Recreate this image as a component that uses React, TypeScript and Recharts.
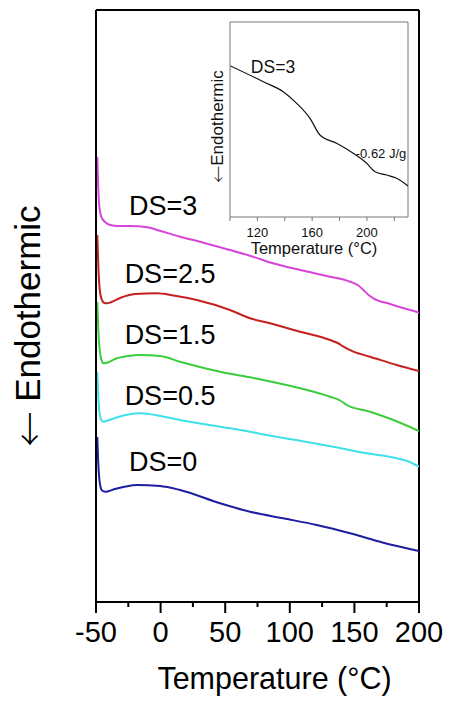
import React from 'react';
import { LineChart, Line, XAxis, YAxis, ReferenceLine, ReferenceDot, Label } from 'recharts';

const FONT = 'Arial, "Liberation Sans", Helvetica, sans-serif';
const ARROW_FONT = '"Noto Sans CJK SC", "DejaVu Sans", sans-serif';

// ---------- main chart data ----------
const MAIN_TICKS = [-50, -25, 0, 25, 50, 75, 100, 125, 150, 175, 200];
const MAIN_MAJOR = [-50, 0, 50, 100, 150, 200];

const ds3T = [-49.0, -48.3, -47.6, -46.5, -45.0, -43.0, -39.0, -33.0, -23.7, -10.5, 0, 15, 30.5, 53.7, 71.6, 87, 108, 128.6, 146.7, 153, 157, 161, 164.7, 177.6, 200];
const ds3V = [445, 415, 398, 388, 383, 380, 377, 376, 376, 374.7, 371, 365.3, 360.3, 352, 345.3, 338.7, 332, 326, 320.3, 316.5, 312, 307, 303.7, 298, 289.5];

const ds25T = [-49.0, -48.3, -47.5, -46.5, -45.0, -43.5, -41.7, -38, -31.4, -19.8, -3, 10, 28, 53.7, 69.2, 84.7, 108, 131.2, 137, 141.5, 149.2, 162.1, 182.8, 200];
const ds25V = [367, 340, 318, 307, 301, 299, 298.7, 300, 304, 308, 308.7, 306.5, 302, 292, 283.7, 278.7, 270.3, 262, 259, 255.3, 250.3, 245.3, 237, 231];

const ds15T = [-49.0, -48.3, -47.5, -46.5, -45.3, -44.3, -41, -35.3, -25, -16, -0.5, 15, 46, 69.2, 79.5, 108, 131.2, 139, 144.1, 162.1, 180.2, 200];
const ds15V = [300, 275, 257, 246, 240.5, 238.7, 239.5, 243, 246, 247, 246, 240.3, 230.3, 224.7, 222, 213.7, 205.3, 201.5, 197, 190.3, 182, 171];

const ds05T = [-49.0, -48.3, -47.5, -46.5, -45.3, -44.3, -41, -35.3, -25, -16, 0, 15, 46, 69.2, 82.2, 108, 133.7, 159.6, 182.8, 192, 200];
const ds05V = [230, 208, 192, 184, 181, 180.3, 181.5, 184, 187.5, 188.7, 186, 182, 175.3, 170.3, 167, 161.3, 155.3, 148.7, 143.7, 140.5, 135.3];

const ds0T = [-49.0, -48.3, -47.5, -46.5, -45.3, -43, -40, -35.3, -27, -18.5, -0.5, 15, 46, 69.2, 95, 120.9, 146.7, 172.4, 200];
const ds0V = [165, 140, 124, 115, 111.5, 110.3, 111, 113, 115.5, 117, 116, 112, 98.7, 90.3, 83.7, 77, 68.7, 59.3, 51];

const SERIES_NAMES = ['DS=3', 'DS=2.5', 'DS=1.5', 'DS=0.5', 'DS=0'];
const SERIES_COLORS = ['#d944d9', '#c4201e', '#3ccc3c', '#3fe0e8', '#1e1ea0'];
const SERIES_T = [ds3T, ds25T, ds15T, ds05T, ds0T];
const SERIES_V = [ds3V, ds25V, ds15V, ds05V, ds0V];
// label anchors (temperature, signal) for the curve names
const LABEL_T = [1.9, 7.3, 7.3, 7.3, 1.9];
const LABEL_V = [397, 329, 268, 206.3, 140.3];

// ---------- inset data ----------
const INSET_TICKS = [100, 120, 140, 160, 180, 200, 220];
const INSET_LABELED = [120, 160, 200];
const insetT = [100, 124.3, 138.9, 148.7, 158.4, 165.7, 177.9, 190, 199.8, 205.9, 214.4, 221.7, 230];
const insetV = [151.3, 135.3, 125.3, 113.7, 98.7, 82, 73.7, 63.7, 53.7, 45.3, 42, 38.7, 31];

const zip = (t: number[], v: number[]) => t.map((x, i) => ({ t: x, v: v[i] }));

const MainXTick = (props: any) => {
  const { x, y, payload } = props;
  const val = payload.value;
  const major = MAIN_MAJOR.includes(val);
  return (
    <g>
      <line x1={x} x2={x} y1={y} y2={y + (major ? 11 : 5)} stroke="#000" strokeWidth={2} />
      {major ? (
        <text x={x} y={y + 30} textAnchor="middle" dominantBaseline="central" fontSize={29} fontFamily={FONT} fill="#000">
          {val}
        </text>
      ) : null}
    </g>
  );
};

const InsetXTick = (props: any) => {
  const { x, y, payload } = props;
  const val = payload.value;
  const lab = INSET_LABELED.includes(val);
  return (
    <g>
      <line x1={x} x2={x} y1={y} y2={y + 4} stroke="#777" strokeWidth={1} />
      {lab ? (
        <text x={x} y={y + 15} textAnchor="middle" dominantBaseline="central" fontSize={13} fontFamily={FONT} fill="#111">
          {val}
        </text>
      ) : null}
    </g>
  );
};

const MainXTitle = (props: any) => {
  const vb = props.viewBox;
  return (
    <text x={vb.x + vb.width / 2 + 17} y={vb.y + 76} textAnchor="middle" dominantBaseline="central" fontSize={30.5} fontFamily={FONT} fill="#000">
      Temperature (°C)
    </text>
  );
};

const MainYTitle = (props: any) => {
  const vb = props.viewBox;
  const cx = vb.x + 27;
  const cy = 326;
  return (
    <text x={cx} y={cy} transform={`rotate(-90 ${cx} ${cy})`} textAnchor="middle" dominantBaseline="central" fontSize={35} fontFamily={FONT} fill="#000">
      <tspan fontFamily={ARROW_FONT} fontWeight={300}>←</tspan> Endothermic
    </text>
  );
};

const InsetXTitle = (props: any) => {
  const vb = props.viewBox;
  return (
    <text x={vb.x + vb.width / 2 - 5} y={vb.y + 31} textAnchor="middle" dominantBaseline="central" fontSize={16.5} fontFamily={FONT} fill="#111">
      Temperature (°C)
    </text>
  );
};

const InsetYTitle = (props: any) => {
  const vb = props.viewBox;
  const cx = vb.x + 17;
  const cy = vb.y + vb.height / 2 + 7;
  return (
    <text x={cx} y={cy} transform={`rotate(-90 ${cx} ${cy})`} textAnchor="middle" dominantBaseline="central" fontSize={17} fontFamily={FONT} fill="#111">
      <tspan fontFamily={ARROW_FONT} fontWeight={300}>←</tspan>Endothermic
    </text>
  );
};

export default function App() {
  return (
    <div style={{ position: 'absolute', left: 0, top: 0, width: 449, height: 708, background: '#fff', fontFamily: FONT }}>
      <div style={{ position: 'absolute', left: 0, top: 0 }}>
        <LineChart width={449} height={708} margin={{ top: 10, right: 30, bottom: 0, left: 0 }}>
          <XAxis
            dataKey="t"
            type="number"
            domain={[-50, 200]}
            ticks={MAIN_TICKS}
            interval={0}
            allowDataOverflow
            height={106}
            tickSize={0}
            tickMargin={0}
            tickLine={false}
            tick={<MainXTick />}
            axisLine={{ stroke: '#000', strokeWidth: 2 }}
          >
            <Label content={<MainXTitle />} />
          </XAxis>
          <YAxis
            type="number"
            domain={[0, 592]}
            allowDataOverflow
            width={96}
            tick={false}
            tickLine={false}
            axisLine={{ stroke: '#000', strokeWidth: 2 }}
          >
            <Label content={<MainYTitle />} />
          </YAxis>
          <ReferenceLine y={592} stroke="#000" strokeWidth={2} />
          <ReferenceLine x={200} stroke="#000" strokeWidth={2} />
          {SERIES_NAMES.map((name, i) => (
            <Line
              key={name}
              name={name}
              data={zip(SERIES_T[i], SERIES_V[i])}
              dataKey="v"
              type="monotone"
              stroke={SERIES_COLORS[i]}
              strokeWidth={2}
              dot={false}
              isAnimationActive={false}
            />
          ))}
          {SERIES_NAMES.map((name, i) => (
            <ReferenceDot
              key={'lab' + name}
              x={LABEL_T[i]}
              y={LABEL_V[i]}
              r={1}
              fill="none"
              stroke="none"
              label={{ value: name, position: 'center', fontSize: 27, fill: '#000', fontFamily: FONT }}
            />
          ))}
        </LineChart>
      </div>
      <div style={{ position: 'absolute', left: 200, top: 15 }}>
        <LineChart width={220} height={250} margin={{ top: 7, right: 12, bottom: 0, left: 0 }}>
          <XAxis
            dataKey="t"
            type="number"
            domain={[100, 230]}
            ticks={INSET_TICKS}
            interval={0}
            allowDataOverflow
            height={48}
            tickSize={0}
            tickMargin={0}
            tickLine={false}
            tick={<InsetXTick />}
            axisLine={{ stroke: '#777', strokeWidth: 1 }}
          >
            <Label content={<InsetXTitle />} />
          </XAxis>
          <YAxis
            type="number"
            domain={[0, 195]}
            allowDataOverflow
            width={30}
            tick={false}
            tickLine={false}
            axisLine={{ stroke: '#777', strokeWidth: 1 }}
          >
            <Label content={<InsetYTitle />} />
          </YAxis>
          <ReferenceLine y={195} stroke="#777" strokeWidth={1} />
          <ReferenceLine x={230} stroke="#777" strokeWidth={1} />
          <Line
            data={zip(insetT, insetV)}
            dataKey="v"
            type="monotone"
            stroke="#111"
            strokeWidth={1.2}
            dot={false}
            isAnimationActive={false}
          />
          <ReferenceDot x={131.4} y={150} r={1} fill="none" stroke="none"
            label={{ value: 'DS=3', position: 'center', fontSize: 17.5, fill: '#111', fontFamily: FONT }} />
          <ReferenceDot x={210.3} y={64} r={1} fill="none" stroke="none"
            label={{ value: '-0.62 J/g', position: 'center', fontSize: 13, fill: '#111', fontFamily: FONT }} />
        </LineChart>
      </div>
    </div>
  );
}
